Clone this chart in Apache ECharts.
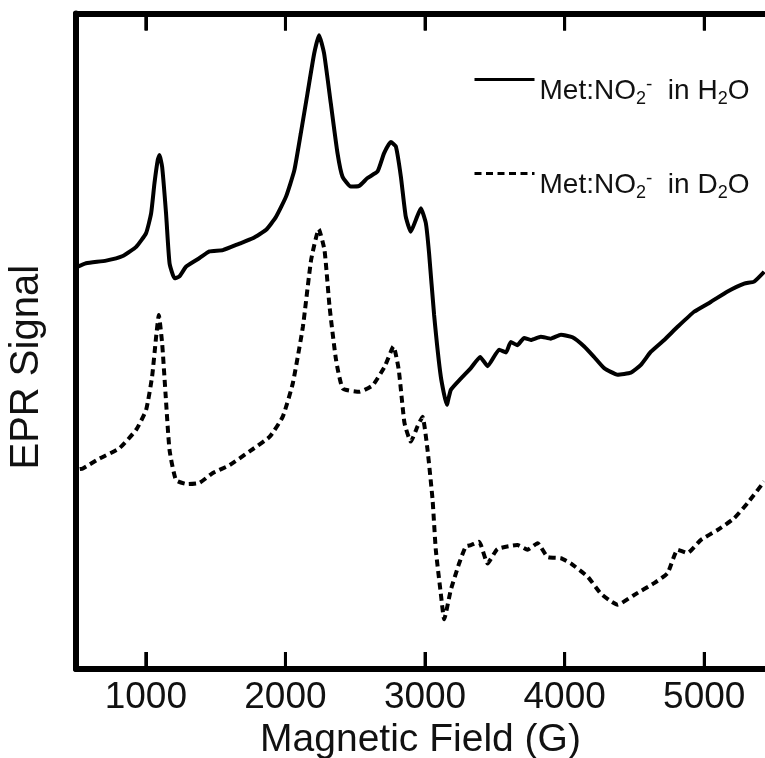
<!DOCTYPE html>
<html>
<head>
<meta charset="utf-8">
<script src="https://cdn.jsdelivr.net/npm/echarts@6/dist/echarts.min.js"></script>
<style>
html,body{margin:0;padding:0;background:#fff;}
#chart{width:765px;height:758px;}
</style>
</head>
<body>
<div id="chart"></div>
<script>
// Magnetic field (G) and EPR signal (arbitrary units)
var fieldH2O = [505,572,716,835,931,1002,1038,1062,1086,1098,1117,1145,1170,1206,1241,1289,1385,1456,1552,1671,1766,1862,1933,2005,2064,2110,2158,2206,2241,2277,2325,2373,2409,2468,2528,2588,2660,2707,2755,2791,2827,2862,2898,2934,2970,3006,3029,3065,3113,3156,3185,3256,3328,3395,3448,3531,3580,3614,3660,3710,3758,3829,3900,3973,4056,4140,4211,4283,4379,4474,4546,4618,4713,4809,4927,5047,5167,5286,5357,5429];
var signalH2O = [61.3,61.9,62.3,63.0,64.4,66.5,69.5,74.1,77.7,78.4,76.6,69.5,61.9,59.6,59.9,61.4,62.7,63.7,63.9,64.9,65.7,67.0,69.0,72.1,76.1,81.7,87.8,93.9,96.7,93.9,86.3,78.7,75.1,73.6,73.7,74.9,75.9,78.7,80.4,79.7,75.1,69.0,66.7,68.5,70.3,68.0,63.4,54.0,44.6,40.3,42.6,44.3,45.9,47.6,46.2,48.7,48.3,49.9,49.4,50.5,50.2,50.7,50.4,51.0,50.6,49.2,47.6,45.9,44.9,45.2,46.4,48.4,50.2,52.2,54.5,56.0,57.6,58.8,59.1,60.6];

var fieldD2O = [527,549,668,812,931,1002,1045,1074,1093,1117,1141,1170,1217,1301,1385,1480,1600,1743,1886,1981,2053,2125,2184,2239,2280,2316,2363,2411,2531,2626,2710,2774,2812,2853,2898,2946,2982,3018,3054,3077,3113,3137,3185,3244,3292,3328,3387,3448,3519,3662,3734,3806,3877,3973,4044,4164,4259,4319,4379,4498,4641,4737,4809,4880,4976,5095,5214,5310,5429];
var signalD2O = [30.5,30.6,32.1,33.7,36.5,39.5,44.6,50.7,54.0,49.7,42.1,33.4,28.8,28.2,28.4,29.9,31.1,33.2,35.4,38.5,43.6,52.2,62.4,67.1,63.9,55.3,47.1,42.8,42.3,43.3,46.1,49.2,45.6,37.5,34.7,37.0,38.5,33.4,25.8,18.2,11.5,7.6,12.1,16.1,18.7,18.9,19.4,16.1,18.3,18.9,18.2,19.2,17.1,16.9,16.1,14.1,11.5,10.5,9.8,11.3,13.1,14.6,18.2,17.7,19.7,21.2,23.0,25.3,28.6];

var tickValues = [1000, 2000, 3000, 4000, 5000];
var seriesNames = ['H2O','D2O'];
var xMin = 500, xMax = 5435, yMin = 0, yMax = 100;

function zip(xs, ys){ return xs.map(function(x,i){ return [x, ys[i]]; }); }
function tickLabel(v){ return tickValues.indexOf(v) >= 0 ? String(v) : ''; }

var FONT = '"Liberation Sans", Arial, Helvetica, sans-serif';
var richLegend = {
  t: {fontSize: 28, fontFamily: FONT, color: '#111', lineHeight: 32, verticalAlign: 'middle'},
  s: {fontSize: 18, fontFamily: FONT, color: '#111', lineHeight: 32, verticalAlign: 'bottom'},
  p: {fontSize: 19, fontFamily: FONT, color: '#111', lineHeight: 32, verticalAlign: 'top'}
};
function legendFmt(name){
  var solvent = name === 'H2O' ? 'H' : 'D';
  return '{t|Met:NO}{s|2}{p|-}{t|  in ' + solvent + '}{s|2}{t|O}';
}
function makeLegend(name, top){
  return {
    data: [name], left: 473, top: top, padding: 0,
    itemWidth: 60, itemHeight: 14, selectedMode: false,
    formatter: legendFmt,
    itemStyle: {opacity: 0},
    lineStyle: {width: 3},
    textStyle: {padding: [24,0,0,0], fontSize: 28, fontFamily: FONT, color: '#111', rich: richLegend}
  };
}

var axisLineStyle = {color: '#000', width: 6};
var tickOpt = {show: true, inside: true, length: 17, customValues: tickValues, lineStyle: {color: '#000', width: 3}};
var option = {
  animation: false,
  backgroundColor: '#fff',
  grid: {left: 76, right: 0, top: 13.5, bottom: 89, containLabel: false, outerBoundsMode: 'none'},
  legend: [makeLegend('H2O', 74), makeLegend('D2O', 168)],
  xAxis: [{
    type: 'value', min: xMin, max: xMax, splitNumber: 5, position: 'bottom',
    name: 'Magnetic Field (G)', nameLocation: 'middle', nameGap: 52,
    nameTextStyle: {fontSize: 39, fontFamily: FONT, color: '#111'},
    axisLine: {show: true, onZero: false, lineStyle: axisLineStyle},
    axisTick: tickOpt,
    axisLabel: {show: true, formatter: tickLabel, margin: 10, fontSize: 37, fontFamily: FONT, color: '#111'},
    splitLine: {show: false}
  }, {
    type: 'value', min: xMin, max: xMax, splitNumber: 5, position: 'top',
    axisLine: {show: true, onZero: false, lineStyle: axisLineStyle},
    axisTick: tickOpt,
    axisLabel: {show: false},
    splitLine: {show: false}
  }],
  yAxis: {
    type: 'value', min: yMin, max: yMax,
    name: 'EPR Signal', nameLocation: 'middle', nameGap: 29,
    nameTextStyle: {fontSize: 40, fontFamily: FONT, color: '#111', padding: [0, 52, 0, 0]},
    axisLine: {show: true, onZero: false, lineStyle: axisLineStyle},
    axisTick: {show: false}, axisLabel: {show: false}, splitLine: {show: false}
  },
  series: [{
    name: seriesNames[0], type: 'line', symbol: 'none', smooth: 0.15,
    data: zip(fieldH2O, signalH2O),
    lineStyle: {color: '#000', width: 4, type: 'solid'},
    itemStyle: {color: '#000'}
  }, {
    name: seriesNames[1], type: 'line', symbol: 'none', smooth: 0.15,
    data: zip(fieldD2O, signalD2O),
    lineStyle: {color: '#000', width: 4, type: [7, 4.5]},
    itemStyle: {color: '#000'}
  }]
};
var chart = echarts.init(document.getElementById('chart'), null, {renderer: 'canvas'});
chart.setOption(option);

// frame ticks placed through the axis scale (graphic layer)
var tickGraphics = [];
tickValues.forEach(function(v){
  var pb = chart.convertToPixel({xAxisIndex: 0, yAxisIndex: 0}, [v, yMin]);
  var pt = chart.convertToPixel({xAxisIndex: 0, yAxisIndex: 0}, [v, yMax]);
  tickGraphics.push({type: 'line', z: 100, silent: true, shape: {x1: pb[0], y1: pb[1], x2: pb[0], y2: pb[1] - 17}, style: {stroke: '#000', lineWidth: 3}});
  tickGraphics.push({type: 'line', z: 100, silent: true, shape: {x1: pt[0], y1: pt[1], x2: pt[0], y2: pt[1] + 17}, style: {stroke: '#000', lineWidth: 3}});
});
chart.setOption({graphic: tickGraphics});
</script>
</body>
</html>
